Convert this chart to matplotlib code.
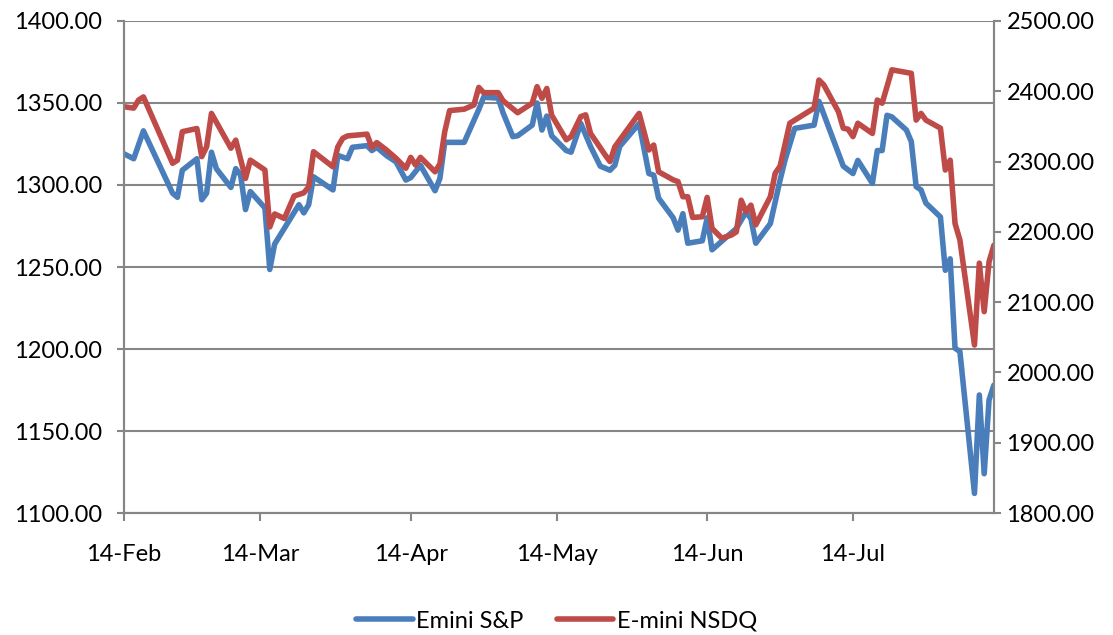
import pandas as pd
import matplotlib
matplotlib.use('Agg')
import matplotlib.pyplot as plt
import matplotlib.dates as mdates
from matplotlib.ticker import MultipleLocator, FormatStrFormatter

# Emini S&P (left axis)
sp_dates = ['2011-02-14', '2011-02-16', '2011-02-18', '2011-02-24', '2011-02-25', '2011-02-26',
            '2011-03-01', '2011-03-02', '2011-03-03', '2011-03-04', '2011-03-05', '2011-03-08',
            '2011-03-09', '2011-03-10', '2011-03-11', '2011-03-12', '2011-03-15', '2011-03-16',
            '2011-03-17', '2011-03-22', '2011-03-23', '2011-03-24', '2011-03-25', '2011-03-29',
            '2011-03-30', '2011-04-01', '2011-04-02', '2011-04-05', '2011-04-06', '2011-04-07',
            '2011-04-09', '2011-04-11', '2011-04-13', '2011-04-14', '2011-04-16', '2011-04-19',
            '2011-04-20', '2011-04-21', '2011-04-25', '2011-04-28', '2011-04-29', '2011-05-02',
            '2011-05-03', '2011-05-05', '2011-05-06', '2011-05-09', '2011-05-10', '2011-05-11',
            '2011-05-12', '2011-05-13', '2011-05-16', '2011-05-17', '2011-05-19', '2011-05-21',
            '2011-05-23', '2011-05-25', '2011-05-26', '2011-05-27', '2011-05-31', '2011-06-02',
            '2011-06-03', '2011-06-04', '2011-06-07', '2011-06-08', '2011-06-09', '2011-06-10',
            '2011-06-13', '2011-06-14', '2011-06-15', '2011-06-20', '2011-06-22', '2011-06-23',
            '2011-06-24', '2011-06-27', '2011-06-29', '2011-06-30', '2011-07-02', '2011-07-06',
            '2011-07-07', '2011-07-12', '2011-07-14', '2011-07-15', '2011-07-18', '2011-07-19',
            '2011-07-20', '2011-07-21', '2011-07-22', '2011-07-25', '2011-07-26', '2011-07-27',
            '2011-07-28', '2011-07-29', '2011-08-01', '2011-08-02', '2011-08-03', '2011-08-04',
            '2011-08-05', '2011-08-08', '2011-08-09', '2011-08-10', '2011-08-11', '2011-08-12']
sp_values = [1319, 1316, 1333, 1295, 1292.5, 1309,
             1316, 1291, 1295, 1320, 1310, 1298.5,
             1310, 1306, 1285, 1296, 1286, 1248.5,
             1264, 1288, 1283, 1288, 1305, 1297,
             1318, 1316, 1323, 1324, 1321, 1323,
             1318, 1314, 1303, 1304.5, 1312, 1296.5,
             1304, 1326, 1326, 1346, 1353.5, 1353,
             1344, 1329.5, 1330, 1336.5, 1350, 1333.5,
             1342, 1330, 1321, 1320, 1337.5, 1323.5,
             1311.5, 1309, 1312, 1323.5, 1337.5, 1307,
             1306, 1292, 1280, 1272.5, 1282.5, 1264.5,
             1266, 1280, 1260.5, 1273.5, 1283.5, 1279.5,
             1264.5, 1276.5, 1303, 1315, 1334.5, 1336.5,
             1351, 1311.5, 1307, 1315, 1301, 1321,
             1321, 1342.5, 1341.5, 1333.5, 1326.5, 1299,
             1297, 1289, 1280.5, 1248, 1255, 1200.5,
             1198.5, 1112, 1172, 1124, 1169, 1178]

# E-mini NSDQ (right axis)
nq_dates = ['2011-02-14', '2011-02-16', '2011-02-17', '2011-02-18', '2011-02-24', '2011-02-25',
            '2011-02-26', '2011-03-01', '2011-03-02', '2011-03-03', '2011-03-04', '2011-03-08',
            '2011-03-09', '2011-03-11', '2011-03-12', '2011-03-15', '2011-03-16', '2011-03-17',
            '2011-03-19', '2011-03-21', '2011-03-23', '2011-03-24', '2011-03-25', '2011-03-29',
            '2011-03-30', '2011-03-31', '2011-04-01', '2011-04-05', '2011-04-06', '2011-04-07',
            '2011-04-09', '2011-04-11', '2011-04-13', '2011-04-14', '2011-04-15', '2011-04-16',
            '2011-04-19', '2011-04-20', '2011-04-21', '2011-04-22', '2011-04-25', '2011-04-27',
            '2011-04-28', '2011-04-29', '2011-05-02', '2011-05-03', '2011-05-06', '2011-05-09',
            '2011-05-10', '2011-05-11', '2011-05-12', '2011-05-13', '2011-05-16', '2011-05-17',
            '2011-05-19', '2011-05-20', '2011-05-21', '2011-05-24', '2011-05-25', '2011-05-26',
            '2011-05-31', '2011-06-02', '2011-06-03', '2011-06-04', '2011-06-07', '2011-06-08',
            '2011-06-09', '2011-06-10', '2011-06-11', '2011-06-13', '2011-06-14', '2011-06-15',
            '2011-06-17', '2011-06-19', '2011-06-20', '2011-06-21', '2011-06-22', '2011-06-23',
            '2011-06-24', '2011-06-27', '2011-06-28', '2011-06-29', '2011-07-01', '2011-07-06',
            '2011-07-07', '2011-07-08', '2011-07-11', '2011-07-12', '2011-07-13', '2011-07-14',
            '2011-07-15', '2011-07-18', '2011-07-19', '2011-07-20', '2011-07-21', '2011-07-22',
            '2011-07-26', '2011-07-27', '2011-07-28', '2011-07-29', '2011-08-01', '2011-08-02',
            '2011-08-03', '2011-08-04', '2011-08-05', '2011-08-08', '2011-08-09', '2011-08-10',
            '2011-08-11', '2011-08-12']
nq_values = [2378, 2376, 2387.5, 2392, 2297.5, 2302,
             2342.5, 2347, 2307, 2321, 2368.5, 2319,
             2330.5, 2276, 2302, 2288, 2207, 2225.5,
             2219, 2251, 2255.5, 2264, 2314, 2292.5,
             2321, 2333, 2336.5, 2339, 2320, 2327,
             2316.5, 2304.5, 2290.5, 2306, 2295, 2306,
             2285.5, 2296.5, 2342.5, 2372.5, 2374.5, 2380.5,
             2405.5, 2398, 2398, 2386.5, 2369.5, 2383,
             2406.5, 2390, 2404, 2366, 2331, 2335.5,
             2364, 2366.5, 2340, 2309.5, 2300, 2321,
             2368.5, 2316.5, 2323.5, 2285.5, 2274, 2271.5,
             2250, 2250, 2220.5, 2221.5, 2249, 2205,
             2191, 2195.5, 2200, 2245, 2228.5, 2238,
             2210, 2250, 2283.5, 2293.5, 2354.5, 2376,
             2416, 2409, 2371, 2347.5, 2346, 2335.5,
             2354.5, 2340, 2387.5, 2383, 2406.5, 2430.5,
             2425.5, 2359, 2368.5, 2359, 2347.5, 2288,
             2302, 2212, 2188.5, 2039, 2155.5, 2086.5,
             2157.5, 2181]

tick_dates = ['2011-02-14', '2011-03-14', '2011-04-14', '2011-05-14', '2011-06-14', '2011-07-14']

grey = '#868686'
blue = '#4A7EBB'
red = '#BE4B48'

plt.rcParams['font.family'] = ['Lato', 'DejaVu Sans']
plt.rcParams['font.size'] = 17

fig = plt.figure(figsize=(11.13, 6.35), dpi=100)
ax = fig.add_axes([0.1114, 0.192, 0.7816, 0.775])
ax2 = ax.twinx()

line_kw = dict(lw=4.0, solid_joinstyle='round', solid_capstyle='round')
l1, = ax.plot(pd.to_datetime(sp_dates), sp_values, color=blue, label='Emini S&P', **line_kw)
l2, = ax2.plot(pd.to_datetime(nq_dates), nq_values, color=red, label='E-mini NSDQ', **line_kw)

ax.set_xlim(pd.Timestamp('2011-02-14'), pd.Timestamp('2011-08-12'))
ax.set_ylim(1100, 1400)
ax2.set_ylim(1800, 2500)
ax.yaxis.set_major_locator(MultipleLocator(50))
ax2.yaxis.set_major_locator(MultipleLocator(100))
ax.yaxis.set_major_formatter(FormatStrFormatter('%.2f'))
ax2.yaxis.set_major_formatter(FormatStrFormatter('%.2f'))
ax.set_xticks(pd.to_datetime(tick_dates))
ax.xaxis.set_major_formatter(mdates.DateFormatter('%d-%b'))

ax.yaxis.grid(True, color=grey, lw=1.5)
ax.set_axisbelow(True)
for a in (ax, ax2):
    a.spines['top'].set_visible(False)
    for s in ('left', 'right', 'bottom'):
        a.spines[s].set_color(grey)
        a.spines[s].set_linewidth(1.5)
ax.tick_params(axis='y', length=5, width=1.5, color=grey, pad=11)
ax2.tick_params(axis='y', length=5, width=1.5, color=grey, pad=4)
ax.tick_params(axis='x', length=6, width=1.5, color=grey, pad=16)

fig.legend(handles=[l1, l2], loc='lower center', bbox_to_anchor=(0.5, -0.028), ncol=2,
           frameon=False, handlelength=2.4, handletextpad=0.15, columnspacing=1.4)

fig.savefig('out.png', dpi=100)
